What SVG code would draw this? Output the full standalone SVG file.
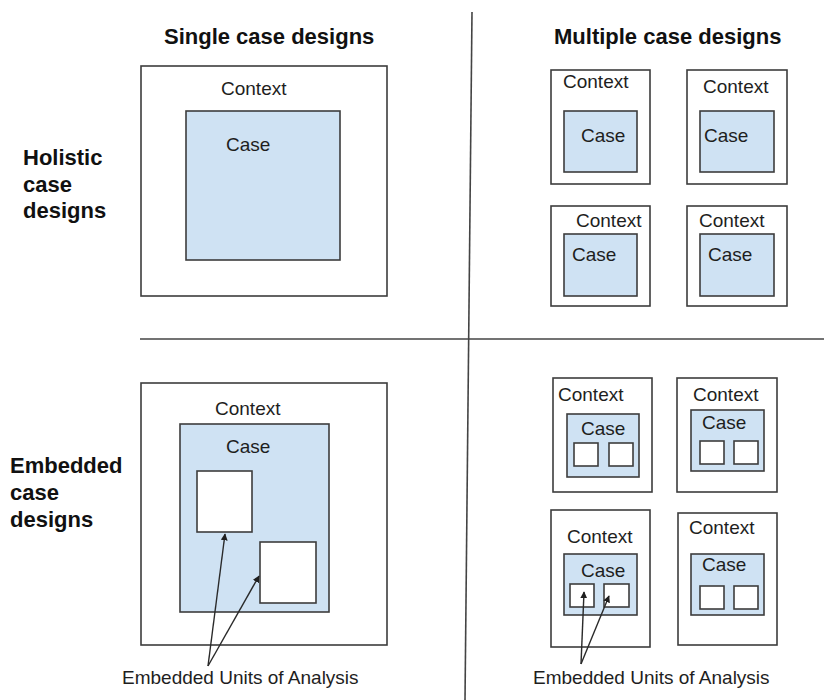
<svg xmlns="http://www.w3.org/2000/svg" width="824" height="700" viewBox="0 0 824 700">
  <style>
    .ctx { fill: #ffffff; stroke: #3d3d3d; stroke-width: 1.6; }
    .case { fill: #cfe2f3; stroke: #3d3d3d; stroke-width: 1.6; }
    .unit { fill: #ffffff; stroke: #3d3d3d; stroke-width: 1.6; }
    .lbl { font-family: "Liberation Sans", Arial, sans-serif; font-size: 19px; fill: #1e1e1e; }
    .head { font-family: "Liberation Sans", Arial, sans-serif; font-size: 22px; font-weight: bold; fill: #111111; }
    .divider { stroke: #444444; stroke-width: 1.6; fill: none; }
    .arrow { stroke: #2a2a2a; stroke-width: 1.4; fill: none; marker-end: url(#tip); }
  </style>
  <defs>
    <marker id="tip" viewBox="0 0 10 10" refX="9" refY="5" markerWidth="7" markerHeight="7" markerUnits="userSpaceOnUse" orient="auto">
      <path d="M0,0 L10,5 L0,10 z" fill="#1e1e1e"/>
    </marker>
  </defs>
  <rect width="824" height="700" fill="#ffffff"/>

  <!-- quadrant dividers -->
  <g id="dividers">
    <line class="divider" x1="472" y1="12" x2="465" y2="700"/>
    <line class="divider" x1="140" y1="339" x2="824" y2="339"/>
  </g>

  <!-- headings -->
  <g id="headings">
    <text class="head" x="164" y="44">Single case designs</text>
    <text class="head" x="554" y="44">Multiple case designs</text>
    <text class="head" x="23" y="165">Holistic</text>
    <text class="head" x="23" y="192">case</text>
    <text class="head" x="23" y="218">designs</text>
    <text class="head" x="10" y="473">Embedded</text>
    <text class="head" x="10" y="500">case</text>
    <text class="head" x="10" y="527">designs</text>
  </g>

  <!-- single holistic -->
  <g id="single-holistic">
    <rect class="ctx" x="141" y="66" width="246" height="230"/>
    <text class="lbl" x="221" y="95">Context</text>
    <rect class="case" x="186" y="111" width="154" height="149"/>
    <text class="lbl" x="226" y="151">Case</text>
  </g>

  <!-- multiple holistic -->
  <g id="multi-holistic-1">
    <rect class="ctx" x="551" y="70" width="99" height="114"/>
    <text class="lbl" x="563" y="88">Context</text>
    <rect class="case" x="564" y="111" width="73" height="61"/>
    <text class="lbl" x="581" y="142">Case</text>
  </g>
  <g id="multi-holistic-2">
    <rect class="ctx" x="687" y="70" width="100" height="114"/>
    <text class="lbl" x="703" y="93">Context</text>
    <rect class="case" x="700" y="111" width="74" height="61"/>
    <text class="lbl" x="704" y="142">Case</text>
  </g>
  <g id="multi-holistic-3">
    <rect class="ctx" x="551" y="206" width="99" height="100"/>
    <text class="lbl" x="576" y="227">Context</text>
    <rect class="case" x="564" y="234" width="73" height="62"/>
    <text class="lbl" x="572" y="261">Case</text>
  </g>
  <g id="multi-holistic-4">
    <rect class="ctx" x="687" y="206" width="100" height="100"/>
    <text class="lbl" x="699" y="227">Context</text>
    <rect class="case" x="700" y="234" width="74" height="62"/>
    <text class="lbl" x="708" y="261">Case</text>
  </g>

  <!-- single embedded -->
  <g id="single-embedded">
    <rect class="ctx" x="141" y="383" width="246" height="262"/>
    <text class="lbl" x="215" y="415">Context</text>
    <rect class="case" x="180" y="424" width="149" height="188"/>
    <text class="lbl" x="226" y="453">Case</text>
    <rect class="unit" x="197" y="471" width="55" height="61"/>
    <rect class="unit" x="260" y="542" width="56" height="61"/>
  </g>

  <!-- multiple embedded -->
  <g id="multi-embedded-1">
    <rect class="ctx" x="553" y="378" width="99" height="114"/>
    <text class="lbl" x="558" y="401">Context</text>
    <rect class="case" x="567" y="414" width="72" height="63"/>
    <text class="lbl" x="581" y="435">Case</text>
    <rect class="unit" x="574" y="443" width="24" height="23"/>
    <rect class="unit" x="609" y="443" width="24" height="23"/>
  </g>
  <g id="multi-embedded-2">
    <rect class="ctx" x="677" y="378" width="100" height="114"/>
    <text class="lbl" x="693" y="401">Context</text>
    <rect class="case" x="691" y="410" width="73" height="61"/>
    <text class="lbl" x="702" y="429">Case</text>
    <rect class="unit" x="700" y="441" width="24" height="23"/>
    <rect class="unit" x="734" y="441" width="24" height="23"/>
  </g>
  <g id="multi-embedded-3">
    <rect class="ctx" x="551" y="510" width="99" height="137"/>
    <text class="lbl" x="567" y="543">Context</text>
    <rect class="case" x="564" y="554" width="73" height="61"/>
    <text class="lbl" x="581" y="577">Case</text>
    <rect class="unit" x="570" y="584" width="24" height="23"/>
    <rect class="unit" x="604" y="584" width="25" height="23"/>
  </g>
  <g id="multi-embedded-4">
    <rect class="ctx" x="678" y="513" width="99" height="132"/>
    <text class="lbl" x="689" y="534">Context</text>
    <rect class="case" x="691" y="554" width="73" height="61"/>
    <text class="lbl" x="702" y="571">Case</text>
    <rect class="unit" x="700" y="586" width="24" height="23"/>
    <rect class="unit" x="734" y="586" width="24" height="23"/>
  </g>

  <!-- captions -->
  <g id="captions">
    <text class="lbl" x="122" y="684">Embedded Units of Analysis</text>
    <text class="lbl" x="533" y="684">Embedded Units of Analysis</text>
  </g>

  <!-- connectors -->
  <g id="connectors">
    <line class="arrow" x1="208" y1="666" x2="225" y2="534"/>
    <line class="arrow" x1="208" y1="666" x2="259" y2="576"/>
    <line class="arrow" x1="581" y1="664" x2="584" y2="592"/>
    <line class="arrow" x1="581" y1="664" x2="609" y2="596"/>
  </g>
</svg>
